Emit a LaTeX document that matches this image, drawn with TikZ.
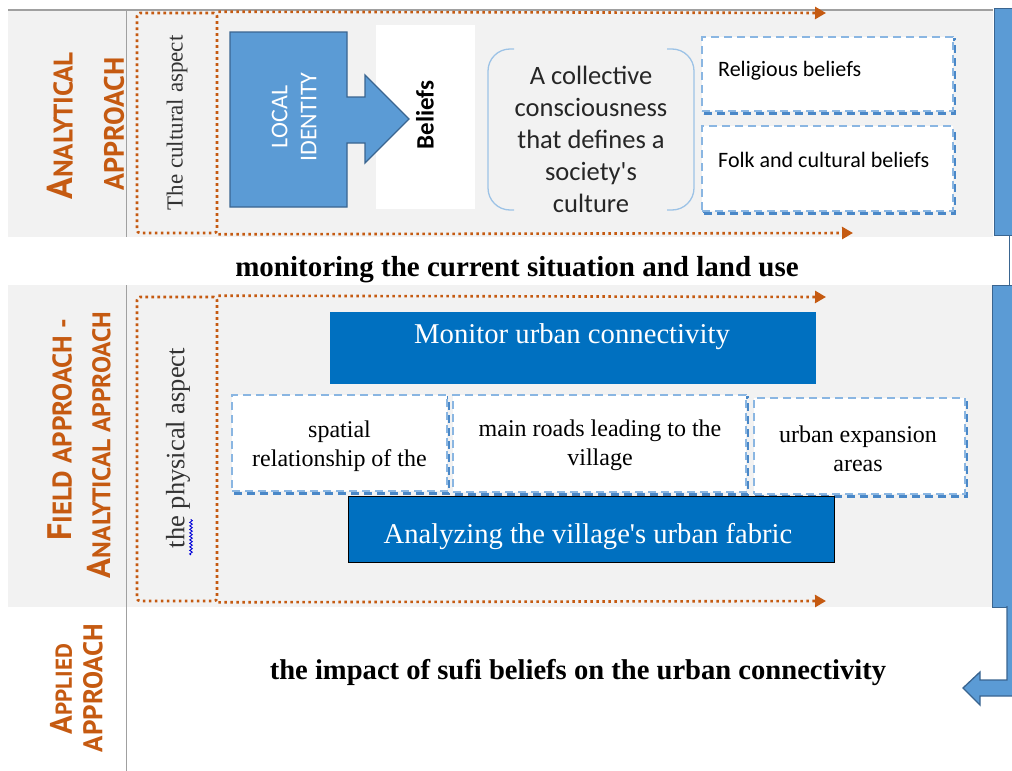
\documentclass[tikz,border=0pt]{standalone}
\usepackage{fontspec}
\setmainfont{Liberation Serif}
\newfontfamily\plainserif{Liberation Serif}
\newfontfamily\carl{Carlito}
\newfontfamily\capsans{PT Sans}
\usetikzlibrary{arrows.meta,decorations.pathmorphing,shadows}
\definecolor{bandgray}{HTML}{F2F2F2}
\definecolor{rulegray}{HTML}{A0A0A0}
\definecolor{rust}{HTML}{C55A11}
\definecolor{midblue}{HTML}{5B9BD5}
\definecolor{edgeblue}{HTML}{3A6590}
\definecolor{deepblue}{HTML}{0070C0}
\definecolor{paleblue}{HTML}{9DC3E6}
\definecolor{dashblue}{HTML}{8AB6E2}
\definecolor{shadeblue}{HTML}{4A88C8}
\newcommand\fs[1]{\fontsize{#1}{#1}\selectfont}

\begin{document}
\begin{tikzpicture}[x=1pt,y=-1pt,
  rule/.style={draw=rulegray,line width=1.4pt},
  sidelabel/.style={text=rust,font=\capsans\bfseries,rotate=90,inner sep=0pt},
  aspect/.style={rotate=90,inner sep=0pt,text=black!80},
  dotframe/.style={draw=rust,line width=2.6pt,dash pattern=on 2.6pt off 3.4pt,rounded corners=3pt,inner sep=0pt},
  dotarrow/.style={draw=rust,line width=2.6pt,dash pattern=on 2.6pt off 3.4pt,-{Triangle[length=11pt,width=12pt]}},
  dashbox/.style={fill=white,draw=dashblue,line width=1.4pt,dash pattern=on 8pt off 5pt,inner sep=0pt,
     copy shadow={shadow xshift=2pt,shadow yshift=-2.5pt,draw=shadeblue,line width=2.6pt,dash pattern=on 8pt off 5pt,fill=none}},
  darkbox/.style={fill=deepblue,inner sep=0pt},
  blueshape/.style={fill=midblue,draw=edgeblue,line width=1.3pt},
  boxtext/.style={align=center,inner sep=0pt,font={\fontsize{24}{29}\selectfont}},
]
\clip (0,0) rectangle (1012,771);
\useasboundingbox (0,0) rectangle (1012,771);

% shaded bands
\fill[bandgray] (8,10) rectangle (993,237);
\fill[bandgray] (8,285) rectangle (992,607);
\draw[rule] (8,10) -- (993,10);
\draw[rule] (126.5,10) -- (126.5,237);
\draw[rule] (126.5,285) -- (126.5,771);

% approach labels
\node[sidelabel] (an1) at (60,126) {\fs{36}A\fs{27}NALYTICAL};
\node[sidelabel] (an2) at (114,124) {\fs{28}APPROACH};
\node[sidelabel] (fd1) at (60,430) {\fs{34}F\fs{27}IELD APPROACH -};
\node[sidelabel] (fd2) at (99,445) {\fs{33}A\fs{25.5}NALYTICAL APPROACH};
\node[sidelabel] (ap1) at (61,689) {\fs{31}A\fs{23}PPLIED};
\node[sidelabel] (ap2) at (93,688) {\fs{27}APPROACH};

% right-hand flow bars
\node[blueshape,minimum width=30pt,minimum height=227pt,inner sep=0pt,anchor=north west] (bar1) at (993.5,8) {};
\node[blueshape,minimum width=30pt,minimum height=322pt,inner sep=0pt,anchor=north west] (bar2) at (992,285) {};
\draw[edgeblue,line width=1.2pt] (1009.5,0 |- bar1.south) -- (1009.5,0 |- bar2.north);
\coordinate (rettip) at (963,688);
\draw[blueshape] (1007,606) -- (1007,680) -- (980,680) -- (980,672) -- (rettip)
  -- (980,705) -- (980,696) -- (1016,696) -- (1016,606);

% ---- cultural aspect ----
\node[dotframe,minimum width=80pt,minimum height=220pt] (cultframe) at (177,123) {};
\node[aspect,font=\fs{23}] (culttext) at (cultframe.center) {The cultural aspect};
\coordinate (c1) at (826,13);
\coordinate (c2) at (853,233);
\draw[dotarrow] (cultframe.north east) -- (c1);
\draw[dotarrow] (cultframe.south east) -- (c2);

\node[fill=white,minimum width=99pt,minimum height=184pt,inner sep=0pt] (beliefs) at (425.5,117) {};
\node[rotate=90,font=\carl\bfseries\fs{25},inner sep=0pt] (belieftext) at (425,115) {Beliefs};
\draw[blueshape] (230,32) -- (347,32) -- (347,97) -- (365,97) -- (365,75) -- (409,119)
  -- (365,163) -- (365,143) -- (347,143) -- (347,207) -- (230,207) -- cycle;
\node[rotate=90,align=center,text=white,font={\carl\fontsize{24}{29}\selectfont},inner sep=0pt] (local) at (294,117) {LOCAL\\IDENTITY};

% collective consciousness in round brackets
\draw[paleblue,line width=1.3pt,rounded corners=22pt] (514,49) -- (488,49) -- (488,210) -- (514,210);
\draw[paleblue,line width=1.3pt,rounded corners=22pt] (667,49) -- (694,49) -- (694,210) -- (667,210);
\node[align=center,inner sep=0pt,text=black!85,font={\carl\fontsize{26.5}{32}\selectfont}] (collective) at (591,139)
  {A collective\\consciousness\\that defines a\\society's\\culture};

\node[dashbox,minimum width=251pt,minimum height=74pt] (religious) at (827.5,74) {};
\node[anchor=west,inner sep=0pt,font=\carl\fs{22}] (reltext) at (718,71) {Religious beliefs};
\node[dashbox,minimum width=251pt,minimum height=85pt] (folk) at (827.5,168.5) {};
\node[anchor=west,inner sep=0pt,font=\carl\fs{22}] (folktext) at (718,160) {Folk and cultural beliefs};

% separator caption
\node[font=\bfseries\fs{29},inner sep=0pt] (monitoring) at (517,270) {monitoring the current situation and land use};

% ---- physical aspect ----
\node[dotframe,minimum width=80pt,minimum height=304pt] (physframe) at (177,449) {};
\node[aspect,font=\fs{26.5}] (phystext) at (178,448) {the physical aspect};
\draw[blue!85!black,line width=0.9pt,decorate,decoration={snake,amplitude=1.3pt,segment length=3.5pt}] (191,555) -- (191,519);
\coordinate (p1) at (826,297);
\coordinate (p2) at (826,601);
\draw[dotarrow] (physframe.north east) -- (p1);
\draw[dotarrow] (physframe.south east) -- (p2);

\node[darkbox,minimum width=486pt,minimum height=72pt] (monitor) at (573,348) {};
\node[text=white,font=\fs{28.7},inner sep=0pt] (monitortext) at (572,337) {Monitor urban connectivity};

\node[dashbox,minimum width=215pt,minimum height=96pt] (spatial) at (339.5,443) {};
\node[boxtext] (spatialtext) at (339.5,446) {spatial\\relationship of the};
\node[dashbox,minimum width=293pt,minimum height=97pt] (roads) at (599.5,443.5) {};
\node[boxtext] (roadstext) at (600,445) {main roads leading to the\\village};
\node[dashbox,minimum width=211pt,minimum height=96pt] (expansion) at (859.5,446) {};
\node[boxtext] (expansiontext) at (858,449) {urban expansion\\areas};

\node[darkbox,draw=black,line width=1pt,minimum width=486pt,minimum height=66pt] (fabric) at (591,529) {};
\node[text=white,font=\plainserif\fs{28.6},inner sep=0pt] (fabrictext) at (588,537) {Analyzing the village's urban fabric};

% ---- applied approach ----
\node[font=\bfseries\fs{28.6},inner sep=0pt] (impact) at (578,673) {the impact of sufi beliefs on the urban connectivity};
\end{tikzpicture}
\end{document}
